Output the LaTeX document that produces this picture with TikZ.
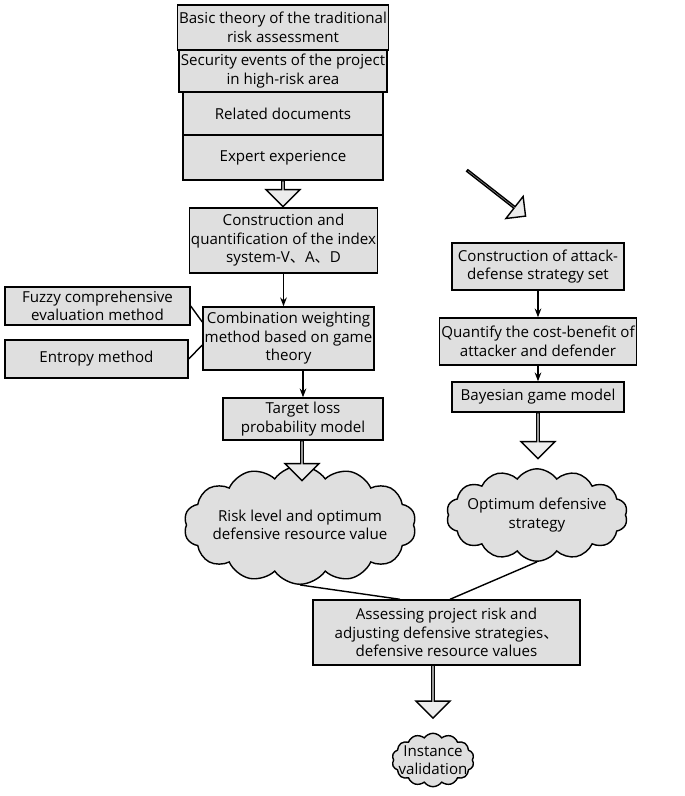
\documentclass[tikz,border=0pt]{standalone}
\usepackage{fontspec}
\setmainfont{Open Sans}
\newfontfamily\cjk{Noto Sans CJK SC}
\usetikzlibrary{shapes.arrows,shapes.symbols,arrows.meta}
\newcommand{\unit}{0.02cm}
\tikzset{
	% grey boxes and clouds of the flow chart
	grey box/.style={rectangle,draw,thick,fill=gray!25,align=center,inner sep=1pt},
	grey cloud/.style={cloud,cloud puffs=14,cloud puff arc=110,aspect=2.4,draw,thick,fill=gray!25,align=center,inner sep=-4pt},
	fat arrow/.style={single arrow,draw,thick,fill=gray!15,minimum width=34*\unit,single arrow head extend=9*\unit,single arrow head indent=0pt,inner sep=0pt,shape border rotate=270},
	link/.style={thick,-{Stealth[length=5pt]}}
}
\begin{document}
\begin{tikzpicture}[x=0.02cm,y=-0.02cm,font=\fontsize{8.6}{10.5}\selectfont]
			\useasboundingbox (0,0) rectangle (685,796);
			% top stack
			\node(basic)[grey box,minimum width=200*\unit,minimum height=45*\unit]at(283,27.5){Basic theory of  the traditional\\risk assessment};
			\node(events)[grey box,minimum width=200*\unit,minimum height=42*\unit]at(283,71){Security events of the project\\in high-risk area};
			\node(docs)[grey box,minimum width=200*\unit,minimum height=43*\unit]at(283,113.5){Related documents};
			\node(expert)[grey box,minimum width=200*\unit,minimum height=45*\unit]at(283,157.5){Expert experience};
			
			% left branch
			\node(index)[grey box,minimum width=177*\unit,minimum height=65*\unit]at(283.5,240.5){Construction and\\quantification of the index\\system-V{\cjk 、}A{\cjk 、}D};
			\node(fuzzy)[grey box,minimum width=185*\unit,minimum height=38*\unit]at(97.5,306){Fuzzy comprehensive\\evaluation method};
			\node(entropy)[grey box,minimum width=183*\unit,minimum height=38*\unit]at(96.5,359){Entropy method};
			\node(combo)[grey box,minimum width=167*\unit,minimum height=63*\unit]at(288.5,338.5){Combination weighting\\method based on game\\theory};
			\node(target)[grey box,minimum width=160*\unit,minimum height=42*\unit]at(303,419){Target loss\\probability model};
			\node(risk)[grey cloud,minimum width=165*\unit,minimum height=62*\unit]at(300,525){Risk level and optimum\\defensive resource value};
			
			% right branch
			\node(strategy)[grey box,minimum width=172*\unit,minimum height=47*\unit]at(538,266.5){Construction of attack-\\defense strategy set};
			\node(cost)[grey box,minimum width=172*\unit,minimum height=47*\unit]at(538,341.5){Quantify the cost-benefit of\\attacker and defender};
			\node(bayes)[grey box,minimum width=172*\unit,minimum height=30*\unit]at(538,397){Bayesian game model};
			\node(optimum)[grey cloud,minimum width=118*\unit,minimum height=56*\unit]at(537,515){Optimum defensive\\strategy};
			
			% bottom
			\node(assess)[grey box,minimum width=267*\unit,minimum height=65*\unit]at(446.5,632.5){Assessing project  risk and\\adjusting defensive strategies{\cjk 、}\\defensive resource values};
			\node(instance)[grey cloud,minimum width=82*\unit,minimum height=48*\unit,aspect=1.7]at(433,760){Instance\\validation};
			
			% hollow arrows
			\node(a1)[fat arrow,minimum height=26*\unit]at(283,193){};
			\node(a2)[fat arrow,rotate=52,minimum height=74*\unit,minimum width=28*\unit]at(496,193){};
			\node(a3)[fat arrow,minimum height=40*\unit]at(302,460){};
			\node(a4)[fat arrow,minimum height=46*\unit]at(538,435){};
			\node(a5)[fat arrow,minimum height=53*\unit]at(433,691){};
			
			% connectors
			\draw[link](index)--(combo.north-|index.south);
			\draw[link](combo.south-|target)--(target);
			\draw[link](strategy)--(cost);
			\draw[link](cost)--(bayes);
			\draw[thick](fuzzy.east)--(combo.west|-0,322);
			\draw[thick](entropy.east)--(combo.west|-0,345);
			\draw[thick](risk.south)--(assess.north-|400,0);
			\draw[thick](optimum.south)--(assess.north-|450,0);
\end{tikzpicture}
\end{document}
